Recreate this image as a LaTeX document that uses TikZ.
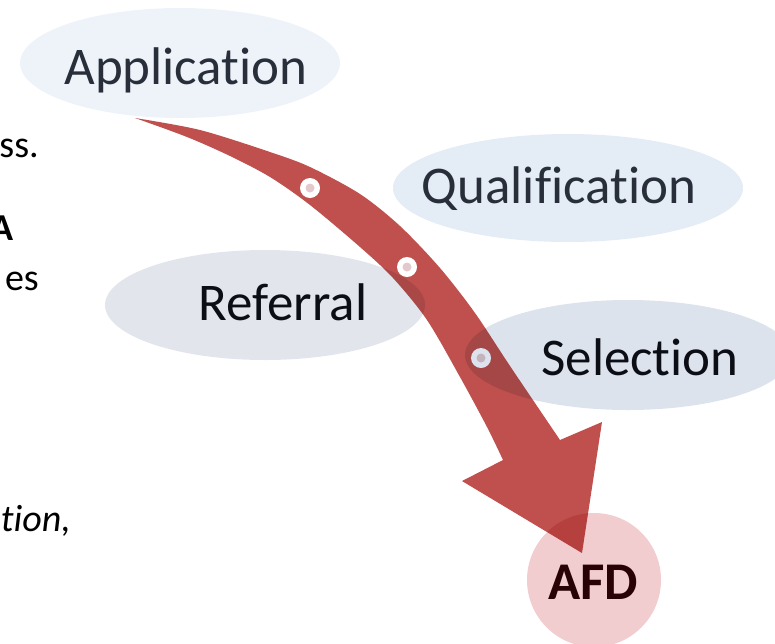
\documentclass[tikz,border=0pt]{standalone}
\usepackage{fontspec}
\setmainfont[Ligatures=NoCommon]{Carlito}
\usetikzlibrary{positioning}
\definecolor{arrowRed}{RGB}{192,80,77}
\definecolor{dotPink}{RGB}{228,200,204}
\definecolor{appBlue}{RGB}{238,243,250}
\definecolor{qualBlue}{RGB}{228,236,246}
\definecolor{refGrey}{RGB}{226,230,236}
\definecolor{selGrey}{RGB}{220,227,236}
\definecolor{afdPink}{RGB}{241,205,207}
\definecolor{slateText}{RGB}{40,46,58}
\definecolor{darkText}{RGB}{12,14,22}
\definecolor{afdText}{RGB}{40,2,4}

\begin{document}
\begin{tikzpicture}[x=1pt,y=-1pt,
  stage/.style={fill=#1,blend mode=multiply},
  stage text/.style={anchor=base,inner sep=0pt,font=\fontsize{53}{64}\selectfont},
  side text/.style={anchor=base east,inner sep=0pt,font=\fontsize{38}{46}\selectfont},
  dot node/.style={circle,fill=white,minimum size=20pt,inner sep=0pt,
    path picture={\fill[dotPink] (path picture bounding box.center) circle (4.5);}}]
\useasboundingbox (0,0) rectangle (775,643);
\clip (0,0) rectangle (775,643);
%------------------------------------------------------------------------
% Cut text on the left side
%------------------------------------------------------------------------
\node[side text] (s1) at (39,157) {ss.};
\node[side text] (s2) at (14,240) {\bfseries A};
\node[side text] (s3) at (39,290) {es};
\node[side text] (s4) at (71,531) {\itshape tion,};
%------------------------------------------------------------------------
% The curved arrow
%------------------------------------------------------------------------
\coordinate (tail) at (135,118);
\coordinate (barbR) at (602,422);
\coordinate (tip) at (582,553);
\coordinate (barbL) at (462,481);
\fill[arrowRed] plot[smooth] coordinates {(tail) (200,130) (270,152) (310,167)
  (360,194) (400,226) (440,268) (475,313) (510,366) (560,440)}
  -- (barbR) -- (tip) -- (barbL)
  -- plot[smooth] coordinates {(503,460) (487,427) (460,377) (427,320)
  (393,278) (360,247) (310,205) (270,177) (230,156) (187,137) (tail)} -- cycle;
\node[dot node] (d1) at (310,188) {};
\node[dot node] (d2) at (407,267) {};
\node[dot node] (d3) at (481,358) {};
%------------------------------------------------------------------------
% The stages
%------------------------------------------------------------------------
\fill[stage=appBlue] (180,63) ellipse (160 and 55);
\fill[stage=qualBlue] (568,188) ellipse (175 and 54);
\fill[stage=refGrey] (265,305) ellipse (160 and 55);
\fill[stage=selGrey] (628,355) ellipse (163 and 55);
\fill[stage=afdPink] (594,580) circle (67);
\node[stage text,text=slateText] (app) at (186,84) {Application};
\node[stage text,text=slateText] (qual) at (559,203) {Qualification};
\node[stage text,text=darkText] (ref) at (283,320) {Referral};
\node[stage text,text=darkText] (sel) at (640,375) {Selection};
\node[stage text,text=afdText] (afd) at (593,599) {\bfseries AFD};

\end{tikzpicture}
\end{document}
